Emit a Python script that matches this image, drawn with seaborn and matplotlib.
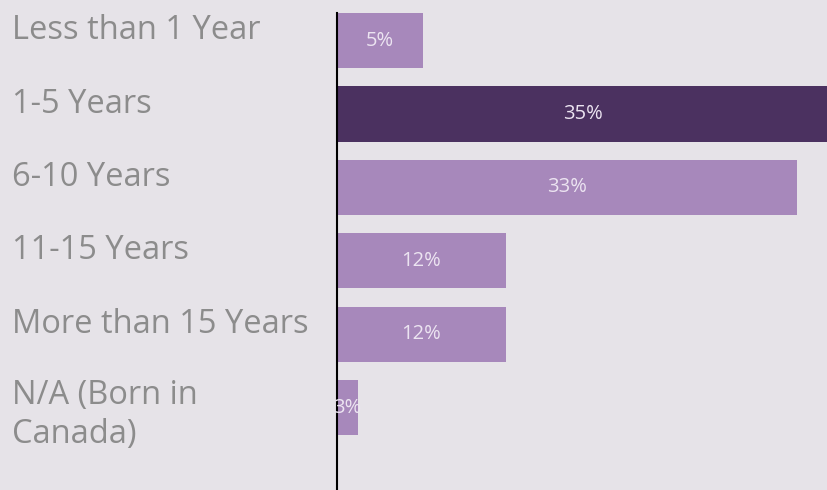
import pandas as pd
import seaborn as sns
from matplotlib import pyplot as plt
from matplotlib import transforms

# data
categories = ['Less than 1 Year', '1-5 Years', '6-10 Years', '11-15 Years',
              'More than 15 Years', 'N/A (Born in\nCanada)']
bar_len = [6.2, 35.3, 33.0, 12.1, 12.1, 1.5]
pct_labels = ['5%', '35%', '33%', '12%', '12%', '3%']

df = pd.DataFrame({'group': categories, 'share': bar_len})

bg = '#e6e3e8'
light = '#a788bb'
dark = '#4b3160'
colors = [dark if v == max(bar_len) else light for v in bar_len]

sns.set_theme(style='white')
plt.rcParams['font.family'] = ['Open Sans', 'DejaVu Sans']

fig = plt.figure(figsize=(8.28, 4.90), dpi=100, facecolor=bg)
ax = fig.add_axes([337 / 828, 0, 1 - 337 / 828, 1 - 13 / 490])
ax.set_facecolor(bg)

sns.barplot(data=df, x='share', y='group', hue='group', palette=colors,
            legend=False, width=0.75, saturation=1, linewidth=0, ax=ax)

for i, (v, lab) in enumerate(zip(bar_len, pct_labels)):
    t = ax.text(v / 2, i, lab, ha='center', va='center', fontsize=14.5,
                color='#ece4f1')
    t.set_clip_path(ax.patches[i])

ax.set_xlim(0, 35.2)
ax.set_ylim(6.12, -0.375)
ax.set_xlabel('')
ax.set_ylabel('')
ax.set_xticks([])
ax.tick_params(axis='y', length=0, pad=234, labelsize=23.5, labelcolor='#8c8c8c')
shift_up = transforms.ScaledTranslation(0, 10 / 72, fig.dpi_scale_trans)
for t in ax.get_yticklabels():
    t.set_ha('left')
    t.set_linespacing(1.25)
    if '\n' not in t.get_text():
        t.set_transform(t.get_transform() + shift_up)

sns.despine(ax=ax, top=True, right=True, bottom=True)
ax.spines['left'].set_color('black')
ax.spines['left'].set_linewidth(1.5)

plt.savefig('out.png', dpi=100, facecolor=bg)
